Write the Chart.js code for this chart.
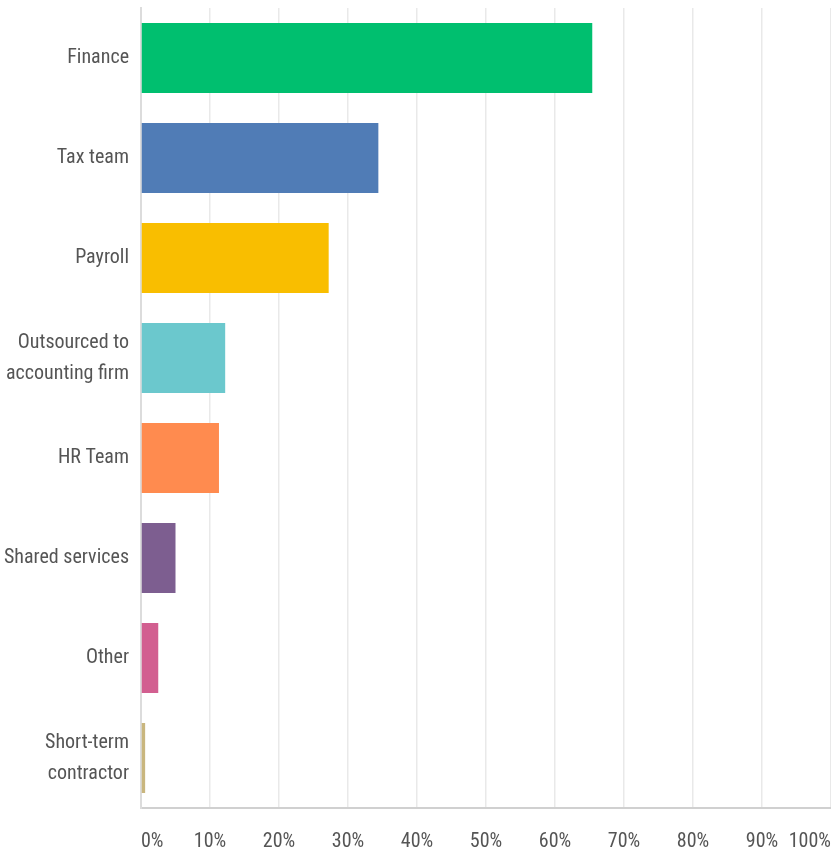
<!DOCTYPE html>
<html>
<head>
<meta charset="utf-8">
<script src="https://cdn.jsdelivr.net/npm/chart.js@4"></script>
<style>
  html, body { margin: 0; padding: 0; background: #fff; }
  #wrap { width: 831px; height: 855px; }
</style>
</head>
<body>
<div id="wrap"><canvas id="myChart"></canvas></div>
<script>
// answers, in the order they are shown
const categories = [
  'Finance',
  'Tax team',
  'Payroll',
  ['Outsourced to', 'accounting firm'],
  'HR Team',
  'Shared services',
  'Other',
  ['Short-term', 'contractor']
];
const percents = [65.4, 34.4, 27.2, 12.2, 11.3, 5.0, 2.5, 0.6];
const barColors = [
  '#00bf6f',
  '#507cb6',
  '#f9be00',
  '#6bc8cd',
  '#ff8b4f',
  '#7d5e90',
  '#d25f90',
  '#c9b67e'
];
const tickValues = [0, 10, 20, 30, 40, 50, 60, 70, 80, 90, 100];

const ctx = document.getElementById('myChart');
const fontFamily = "'Liberation Sans Narrow', 'Roboto Condensed', 'DejaVu Sans Condensed', sans-serif";

new Chart(ctx, {
  type: 'bar',
  data: {
    labels: categories,
    datasets: [{
      data: percents,
      backgroundColor: barColors,
      borderWidth: 0,
      barPercentage: 0.7,
      categoryPercentage: 1.0
    }]
  },
  options: {
    indexAxis: 'y',
    responsive: true,
    maintainAspectRatio: false,
    animation: false,
    layout: { padding: { top: 8, right: 0, left: 0, bottom: 0 } },
    plugins: {
      legend: { display: false },
      tooltip: { enabled: false }
    },
    scales: {
      x: {
        min: 0,
        max: 100,
        afterBuildTicks: (axis) => {
          axis.ticks = tickValues.map(v => ({ value: v }));
        },
        afterFit: (axis) => {
          axis.height = 47;
          // labels are aligned inside, so no room is needed at the sides
          axis.paddingLeft = 0;
          axis.paddingRight = 0;
        },
        grid: {
          color: '#e9e9e9',
          lineWidth: 1.5,
          drawTicks: false
        },
        border: { color: '#d0d0d0', width: 2 },
        ticks: {
          align: 'inner',
          padding: 22,
          color: '#555',
          font: { family: fontFamily, size: 20 },
          callback: (v) => v + '%'
        }
      },
      y: {
        afterFit: (axis) => {
          axis.width = 141;
          axis.paddingTop = 0;
          axis.paddingBottom = 0;
        },
        grid: { display: false, drawTicks: false },
        border: { color: '#dcdcdc', width: 2 },
        ticks: {
          padding: 12,
          color: '#555',
          font: { family: fontFamily, size: 20, lineHeight: 1.55 }
        }
      }
    }
  }
});
</script>
</body>
</html>
